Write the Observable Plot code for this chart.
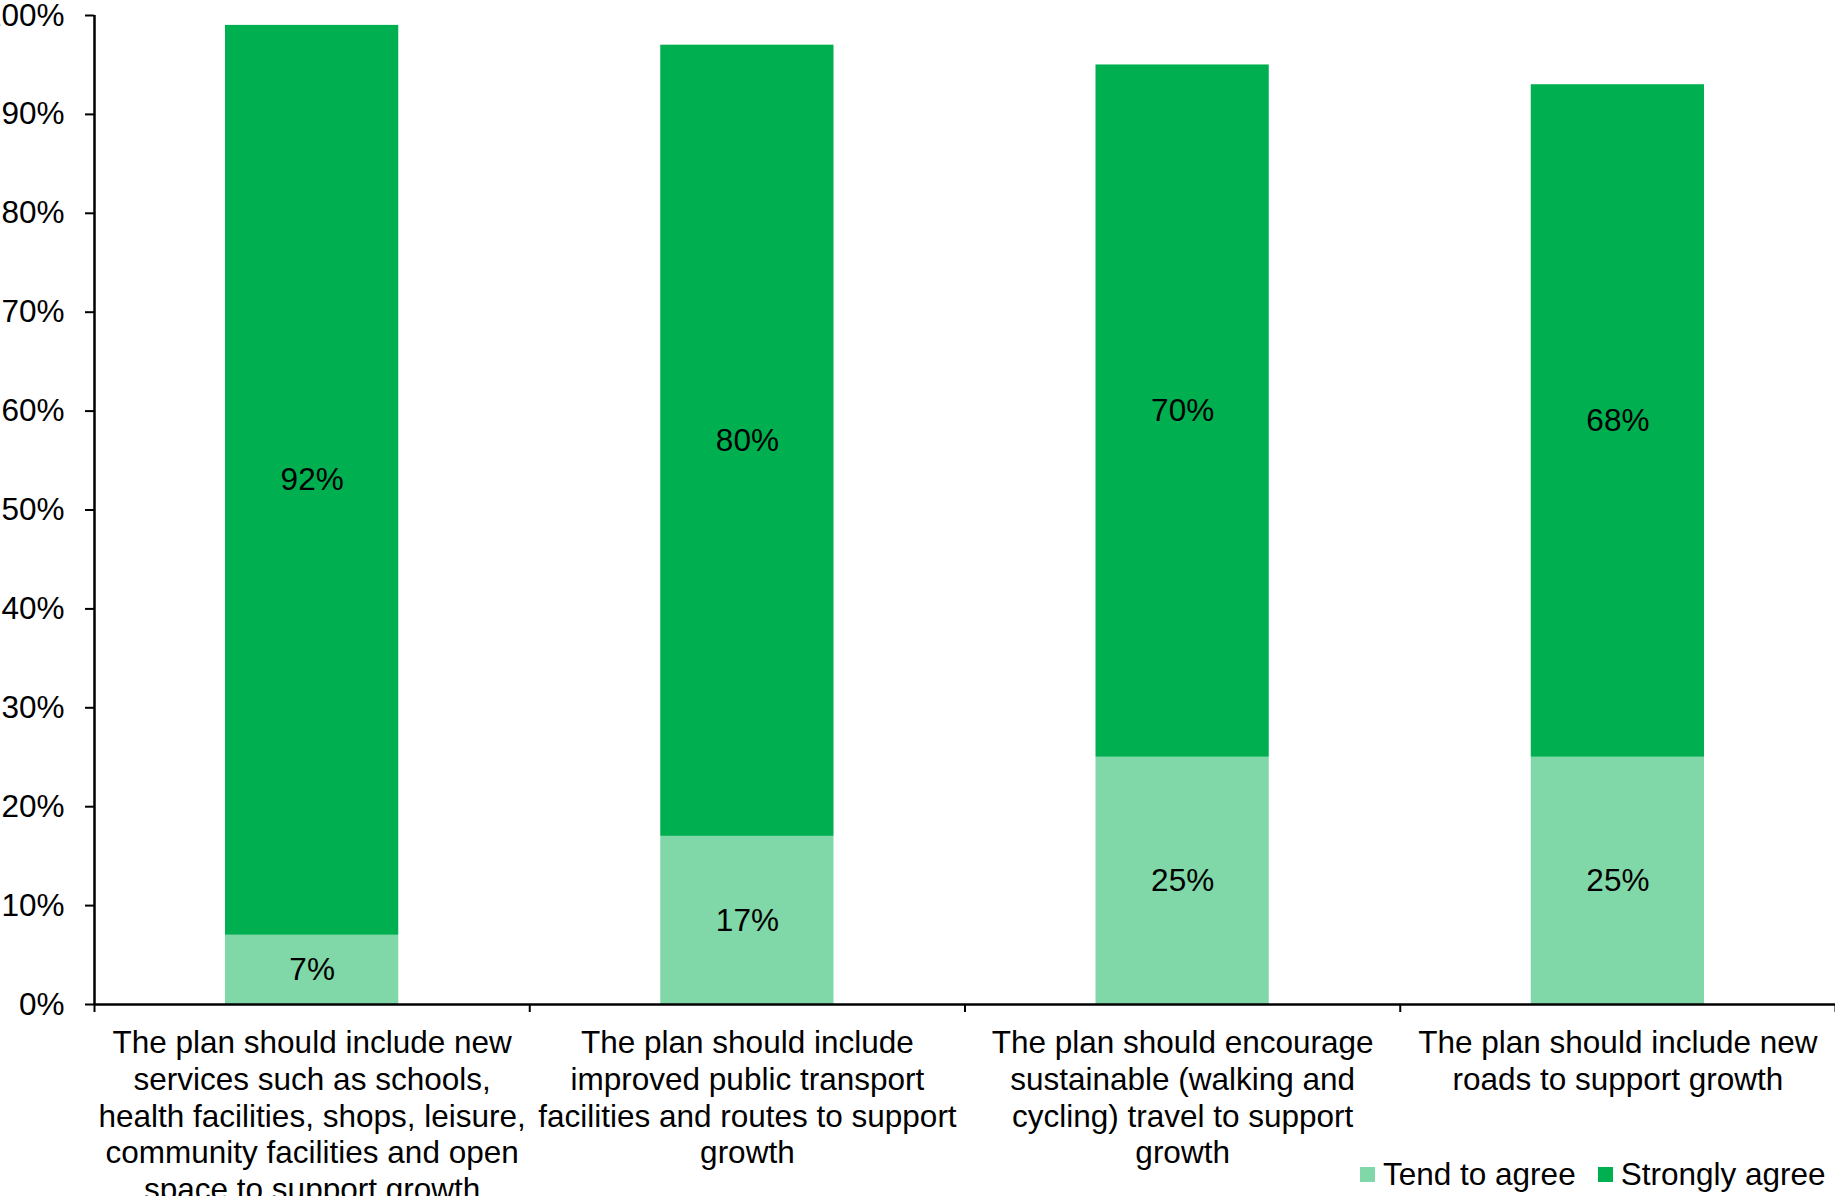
<!DOCTYPE html>
<html>
<head>
<meta charset="utf-8">
<script src="https://cdn.jsdelivr.net/npm/d3@7"></script>
<script src="https://cdn.jsdelivr.net/npm/@observablehq/plot@0.6"></script>
<style>
  html, body { margin: 0; padding: 0; background: #fff; overflow: hidden; }
  body { width: 1835px; height: 1196px; position: relative; font-family: "Liberation Sans", Arial, sans-serif; }
  #chart { position: absolute; left: 0; top: 0; }
  #legend { position: absolute; left: 1360px; top: 1155px; font-size: 31.5px; line-height: 38px; color: #000; white-space: nowrap; display: flex; align-items: center; }
  #legend .sw { display: inline-block; width: 15px; height: 15px; margin-right: 8px; }
  #legend .item { display: flex; align-items: center; margin-right: 22px; }
  #legend .item:last-child { margin-right: 0; }
</style>
</head>
<body>
<div id="chart"></div>
<div id="legend"></div>
<script>
const categories = [
  "The plan should include new\nservices such as schools,\nhealth facilities, shops, leisure,\ncommunity facilities and open\nspace to support growth",
  "The plan should include\nimproved public transport\nfacilities and routes to support\ngrowth",
  "The plan should encourage\nsustainable (walking and\ncycling) travel to support\ngrowth",
  "The plan should include new\nroads to support growth"
];
const seriesNames = ["Tend to agree", "Strongly agree"];
const tendToAgree = [7, 17, 25, 25];
const stronglyAgree = [92, 80, 70, 68];
const yTicks = [0, 10, 20, 30, 40, 50, 60, 70, 80, 90, 100];
const seriesColors = ["#80d7a8", "#00b050"];

const rows = [];
categories.forEach((c, i) => {
  rows.push({i, i1: i + 1, series: seriesNames[0], value: tendToAgree[i], y1: 0, y2: tendToAgree[i]});
  rows.push({i, i1: i + 1, series: seriesNames[1], value: stronglyAgree[i], y1: tendToAgree[i], y2: tendToAgree[i] + stronglyAgree[i]});
});
const cats = categories.map((c, i) => ({i, label: c}));
const font = "Liberation Sans, Arial, sans-serif";
const fs = 31.5;

const chart = Plot.plot({
  width: 1835,
  height: 1196,
  marginLeft: 94,
  marginRight: 0,
  marginTop: 15,
  marginBottom: 192,
  style: {fontFamily: font, fontSize: fs + "px", color: "#000", background: "#fff", overflow: "visible"},
  x: {type: "linear", domain: [0, categories.length], axis: null},
  y: {domain: [0, 100], axis: null},
  color: {domain: seriesNames, range: seriesColors},
  marks: [
    Plot.rect(rows, {x1: "i", x2: "i1", y1: "y1", y2: "y2", fill: "series", insetLeft: 131, insetRight: 131}),
    Plot.text(rows, {x: d => d.i + 0.5, y: d => (d.y1 + d.y2) / 2, text: d => d.value + "%", fontSize: fs, fill: "#000"}),
    Plot.axisY({ticks: yTicks, tickSize: 9, tickPadding: 21, tickFormat: d => d + "%", strokeWidth: 2, fontSize: fs, label: null}),
    Plot.axisX({ticks: d3.range(categories.length + 1), tickSize: 8, tickFormat: () => "", strokeWidth: 2, label: null}),
    Plot.ruleX([0], {strokeWidth: 2.5}),
    Plot.ruleY([0], {strokeWidth: 2.5}),
    Plot.text(cats, {x: d => d.i + 0.5, y: () => 0, text: "label", lineAnchor: "top", dy: 23, lineHeight: 1.16, fontSize: fs, fill: "#000"})
  ]
});
document.getElementById("chart").appendChild(chart);

const legend = document.getElementById("legend");
seriesNames.forEach((name, k) => {
  const item = document.createElement("span");
  item.className = "item";
  const sw = document.createElement("span");
  sw.className = "sw";
  sw.style.background = seriesColors[k];
  item.appendChild(sw);
  item.appendChild(document.createTextNode(name));
  legend.appendChild(item);
});
</script>
</body>
</html>
